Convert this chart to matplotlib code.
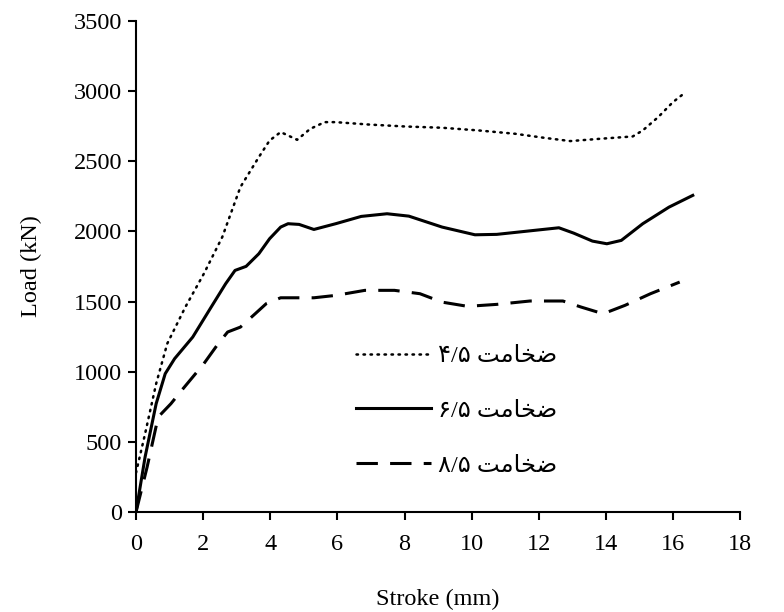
import numpy as np
import matplotlib
matplotlib.use("Agg")
from matplotlib import pyplot as plt

plt.rcParams['font.family'] = ['Liberation Serif', 'DejaVu Sans']

# thickness 4/5 (dotted)
x45 = [0.0, 0.27, 0.6, 0.93, 1.47, 2.02, 2.57, 3.11, 3.66, 3.98, 4.31, 4.53, 4.8,
       5.19, 5.62, 5.95, 6.93, 8.02, 9.12, 10.2, 11.3, 12.17, 12.94, 13.81, 14.8,
       15.1, 15.56, 16.0, 16.38]
y45 = [280, 558, 915, 1200, 1461, 1698, 1960, 2316, 2530, 2648, 2708, 2684, 2653,
       2731, 2779, 2779, 2762, 2748, 2739, 2720, 2696, 2667, 2644, 2660, 2677,
       2720, 2815, 2922, 2993]

# thickness 6/5 (solid)
x65 = [0.0, 0.27, 0.6, 0.87, 1.15, 1.69, 2.24, 2.67, 2.95, 3.28, 3.66, 3.98, 4.31,
       4.53, 4.86, 5.3, 5.95, 6.71, 7.48, 8.13, 9.12, 10.1, 10.75, 11.85, 12.6,
       13.04, 13.6, 14.03, 14.46, 15.1, 15.88, 16.59]
y65 = [0, 392, 772, 986, 1093, 1247, 1461, 1627, 1722, 1751, 1841, 1948, 2031,
       2055, 2050, 2014, 2055, 2107, 2126, 2109, 2031, 1976, 1979, 2007, 2026,
       1988, 1931, 1912, 1936, 2055, 2173, 2257]

# thickness 8/5 (dashed)
x85 = [0.0, 0.33, 0.66, 1.04, 1.36, 2.02, 2.45, 2.73, 3.11, 3.55, 3.88, 4.31, 5.3,
       5.95, 6.82, 7.7, 8.46, 9.12, 9.88, 10.75, 11.74, 12.72, 13.26, 13.92,
       14.57, 15.33, 16.2]
y85 = [0, 320, 677, 772, 867, 1057, 1200, 1283, 1318, 1413, 1485, 1527, 1527,
       1544, 1580, 1580, 1556, 1496, 1466, 1480, 1504, 1504, 1461, 1413,
       1473, 1556, 1639]

# Persian labels, pre-shaped (presentation forms, visual order)
word = '\uFE96\uFEE3\uFE8E\uFEA8\uFEBF'
labels = ['\u06F4/\u06F5 ' + word, '\u06F6/\u06F5 ' + word, '\u06F8/\u06F5 ' + word]

fs = 17.5

fig = plt.figure(figsize=(7.84, 6.12), dpi=100)
ax = fig.add_axes([0.1735, 0.1634, 0.7705, 0.8023])

ax.plot(x45, y45, color='black', lw=1.8, linestyle=(0, (0.6, 2.2)),
        dash_capstyle='round', label=labels[0])
ax.plot(x65, y65, color='black', lw=2.2, linestyle='-', label=labels[1])
ax.plot(x85, y85, color='black', lw=2.2, linestyle=(0, (7, 4)), label=labels[2])

ax.set_xlim(0, 18)
ax.set_ylim(0, 3500)
ax.set_xticks(np.arange(0, 19, 2))
ax.set_yticks(np.arange(0, 3501, 500))
ax.spines['top'].set_visible(False)
ax.spines['right'].set_visible(False)
for s in ['left', 'bottom']:
    ax.spines[s].set_linewidth(1.5)
ax.tick_params(direction='out', length=6, width=1.5, labelsize=fs)
ax.tick_params(axis='x', pad=10)
ax.tick_params(axis='y', pad=4)
ax.set_xlabel('Stroke (mm)', fontsize=fs, labelpad=24)
ax.set_ylabel('Load (kN)', fontsize=fs, labelpad=23)

ax.legend(loc='center', bbox_to_anchor=(0.531, 0.206), frameon=False,
          fontsize=fs, handlelength=3.1, handletextpad=0.3, labelspacing=1.35)

fig.savefig('out.png', dpi=100)
